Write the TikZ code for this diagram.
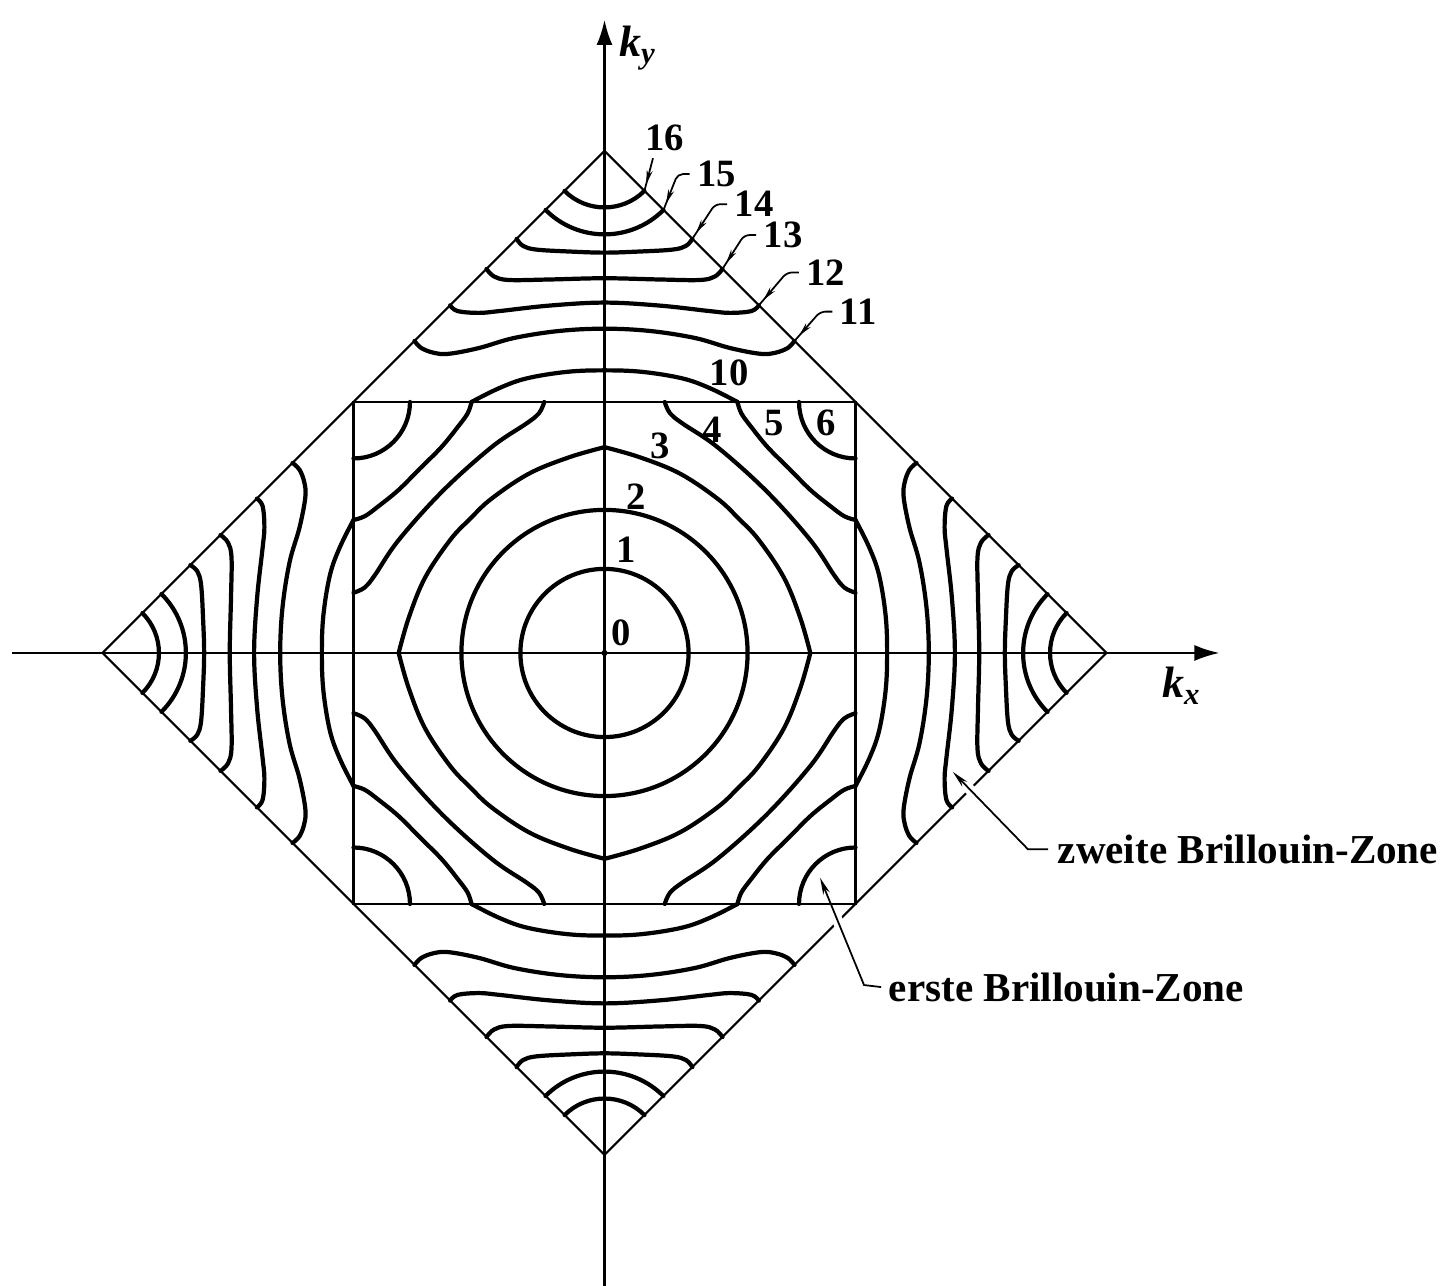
\documentclass[tikz,border=0pt]{standalone}
\usepackage{fontspec}
\setmainfont{Liberation Serif}
\usetikzlibrary{arrows.meta,decorations.markings,calc}
\begin{document}
\begin{tikzpicture}[x=2.51cm,y=2.51cm,
  thinline/.style={line width=0.6pt},
  contour/.style={line width=1.2pt, line join=round, line cap=round},
  numlbl/.style={font=\fontsize{11}{13}\selectfont\bfseries, inner sep=2pt},
  zonelbl/.style={font=\fontsize{11.7}{14}\selectfont\bfseries, inner sep=0pt, anchor=west},
  klbl/.style={font=\fontsize{12.5}{14}\selectfont\bfseries\itshape, inner sep=0pt},
  leader/.style={line width=0.5pt, rounded corners=1.5pt, postaction={decorate},
    decoration={markings, mark=at position -0.07cm with {\arrow{Stealth[length=0.14cm,width=0.06cm]}}}},
  bigleader/.style={line width=0.5pt, -{Stealth[length=0.17cm,width=0.07cm]}},
  axisarrow/.style={thinline, -{Latex[length=0.25cm,width=0.16cm]}}]
\useasboundingbox (-2.4084,-2.5219) rectangle (3.3486,2.6016);
% axes
\coordinate (O) at (0,0);
\coordinate (xl) at (-2.36,0);
\coordinate (xr) at (2.45,0);
\coordinate (yb) at (0,-2.53);
\coordinate (yt) at (0,2.522);
\draw[axisarrow] (xl) -- (xr);
\draw[axisarrow] (yb) -- (yt);
\fill (O) circle (0.012);
% zone boundaries
\draw[thinline] (-1,-1) rectangle (1,1);
\draw[thinline] (2,0) -- (0,2) -- (-2,0) -- (0,-2) -- cycle;
% first zone
\draw[contour] (O) circle (0.335);
\draw[contour] (O) circle (0.57);
\foreach \sx/\sy in {1/1,-1/1,1/-1,-1/-1}{
 \begin{scope}[xscale=\sx,yscale=\sy]
  \draw[contour] plot[smooth,tension=0.6] coordinates {(0,0.82) (0.14,0.78) (0.3,0.715) (0.45,0.615) (0.535,0.535) (0.615,0.45) (0.715,0.3) (0.78,0.14) (0.82,0)};
  \draw[contour] plot[smooth,tension=0.6] coordinates {(0.24,1) (0.261,0.955) (0.31,0.915) (0.45,0.82) (0.645,0.645) (0.82,0.45) (0.915,0.31) (0.955,0.261) (1,0.24)};
  \draw[contour] plot[smooth,tension=0.6] coordinates {(0.53,1) (0.545,0.955) (0.585,0.9) (0.65,0.82) (0.735,0.735) (0.82,0.65) (0.9,0.585) (0.955,0.545) (1,0.53)};
  \draw[contour] (1,0.775) arc[start angle=-90,end angle=-180,radius=0.225];
 \end{scope}}
% second zone
\foreach \r in {0,90,180,270}{
 \begin{scope}[rotate=\r]
  \draw[contour] (0.159,1.841) arc[start angle=-45,end angle=-135,radius=0.225];
  \draw[contour] (0.235,1.765) arc[start angle=-45,end angle=-135,radius=0.332];
  \draw[contour] plot[smooth,tension=0.6] coordinates {(-0.35,1.65) (-0.325,1.622) (-0.27,1.607) (-0.13,1.599) (0,1.595) (0.13,1.599) (0.27,1.607) (0.325,1.622) (0.35,1.65)};
  \draw[contour] plot[smooth,tension=0.6] coordinates {(-0.47,1.53) (-0.44,1.5) (-0.38,1.486) (-0.22,1.488) (0,1.493) (0.22,1.488) (0.38,1.486) (0.44,1.5) (0.47,1.53)};
  \draw[contour] plot[smooth,tension=0.6] coordinates {(-0.615,1.385) (-0.585,1.362) (-0.5,1.355) (-0.42,1.362) (-0.22,1.384) (0,1.396) (0.22,1.384) (0.42,1.362) (0.5,1.355) (0.585,1.362) (0.615,1.385)};
  \draw[contour] plot[smooth,tension=0.6] coordinates {(-0.757,1.243) (-0.73,1.215) (-0.68,1.196) (-0.62,1.192) (-0.5,1.215) (-0.36,1.255) (-0.18,1.283) (0,1.292) (0.18,1.283) (0.36,1.255) (0.5,1.215) (0.62,1.192) (0.68,1.196) (0.73,1.215) (0.757,1.243)};
  \draw[contour] plot[smooth,tension=0.6] coordinates {(-0.53,1.0) (-0.42,1.055) (-0.31,1.094) (-0.15,1.12) (0,1.126) (0.15,1.12) (0.31,1.094) (0.42,1.055) (0.53,1.0)};
 \end{scope}}
% labels first zone
\node[numlbl] (l0) at (0.068,0.082) {0};
\node[numlbl] (l1) at (0.088,0.41) {1};
\node[numlbl] (l2) at (0.125,0.622) {2};
\node[numlbl] (l3) at (0.221,0.825) {3};
\node[numlbl] (l4) at (0.427,0.888) {4};
\node[numlbl] (l5) at (0.675,0.918) {5};
\node[numlbl] (l6) at (0.882,0.918) {6};
\node[numlbl] (l10) at (0.497,1.118) {10};
% labels second zone with leaders
\coordinate (e16) at (0.159,1.841);
\coordinate (e15) at (0.235,1.765);
\coordinate (e14) at (0.35,1.65);
\coordinate (e13) at (0.47,1.53);
\coordinate (e12) at (0.615,1.385);
\coordinate (e11) at (0.757,1.243);
\node[numlbl] (l16) at (0.241,2.054) {16};
\node[numlbl] (l15) at (0.447,1.908) {15};
\node[numlbl] (l14) at (0.596,1.788) {14};
\node[numlbl] (l13) at (0.712,1.665) {13};
\node[numlbl] (l12) at (0.882,1.516) {12};
\node[numlbl] (l11) at (1.011,1.36) {11};
\draw[leader] ([xshift=-0.12cm]l16.south) -- (e16);
\foreach \n in {15,14,13,12,11}{
  \draw[leader] (l\n.west) -- ([xshift=-0.12cm]l\n.west) -- (e\n);
}
% zone labels
\node[zonelbl] (zw) at (1.803,-0.782) {zweite Brillouin-Zone};
\node[zonelbl] (er) at (1.13,-1.331) {erste Brillouin-Zone};
\coordinate (zwtip) at (1.388,-0.474);
\coordinate (zwc) at (1.687,-0.782);
\coordinate (ertip) at (0.859,-0.896);
\coordinate (erc) at (1.034,-1.323);
\draw[white,line width=3pt] ($(zwtip)!0.15!(zwc)$) -- ($(zwtip)!0.35!(zwc)$);
\draw[white,line width=3pt] ($(ertip)!0.32!(erc)$) -- ($(ertip)!0.5!(erc)$);
\draw[bigleader] ([xshift=-0.09cm]zw.west) -- (zwc) -- (zwtip);
\draw[bigleader] ([xshift=-0.07cm]er.west) -- (erc) -- (ertip);
% axis labels
\node[klbl] (ky) at (0.133,2.41) {k\textsubscript{y}};
\node[klbl] (kx) at (2.30,-0.131) {k\textsubscript{x}};
\end{tikzpicture}
\end{document}
